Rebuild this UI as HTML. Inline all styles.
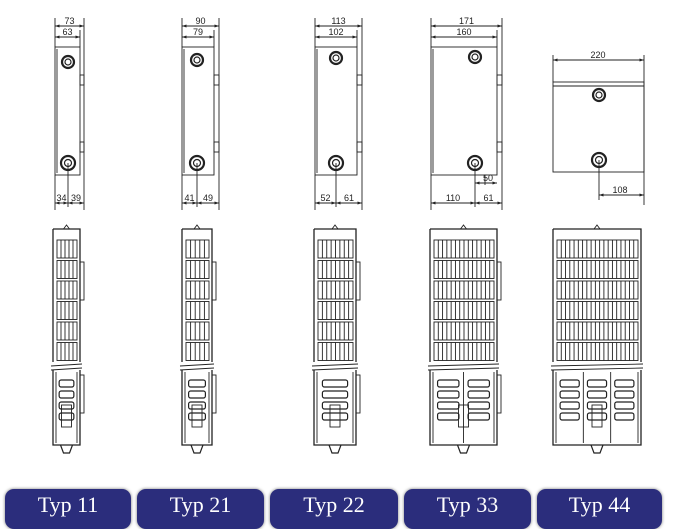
<!DOCTYPE html>
<html><head><meta charset="utf-8"><style>
body{margin:0;background:#fff;width:685px;height:526px;overflow:hidden;position:relative;font-family:"Liberation Sans",sans-serif}
svg{position:absolute;left:0;top:0}
.b{position:absolute;top:489px;height:40px;background:#2b2d7c;border-radius:9px;color:#fff;font-family:"Liberation Serif",serif;font-size:22px;text-align:center;line-height:32px;box-shadow:0 0 3px #777}
</style></head><body>
<svg id="s" width="685" height="526" viewBox="0 0 685 526" font-family="Liberation Sans" font-size="9" fill="none" stroke="#222" stroke-width="0.9">
<defs>
<marker id="a" viewBox="0 0 6 6" refX="6" refY="3" markerWidth="5" markerHeight="5" orient="auto-start-reverse"><path d="M0,1 L6,3 L0,5z" fill="#222" stroke="none"/></marker>
</defs>
<g id="g"></g>
</svg>
<div class="b" style="left:5px;width:126px">Typ 11</div>
<div class="b" style="left:137px;width:127px">Typ 21</div>
<div class="b" style="left:270px;width:128px">Typ 22</div>
<div class="b" style="left:404px;width:127px">Typ 33</div>
<div class="b" style="left:537px;width:125px">Typ 44</div>
<script>
(function(){
const g=document.getElementById('g');let h='';
function L(x1,y1,x2,y2,m){h+=`<line x1="${x1}" y1="${y1}" x2="${x2}" y2="${y2}"${m?' marker-start="url(#a)" marker-end="url(#a)"':''}/>`;}
function T(x,y,t){h+=`<text x="${x}" y="${y}" fill="#222" stroke="none" text-anchor="middle">${t}</text>`;}
function C(x,y,r){h+=`<circle cx="${x}" cy="${y}" r="${r}" stroke-width="2.2"/><circle cx="${x}" cy="${y}" r="${r*0.5}" stroke-width="1.2"/>`;}
function topv(x1,xo,xi,cx,cy1,l1,l2,t1,t2){
 L(x1,18,x1,47);L(xo,18,xo,210);L(xi,30,xi,47);
 L(x1,26,xo,26,1);T((x1+xo)/2,24,t1);L(x1,37,xi,37,1);T((x1+xi)/2,35,t2);
 h+=`<rect x="${x1}" y="47" width="${xi-x1}" height="128"/>`;L(x1+2,49,x1+2,173);
 h+=`<rect x="${xi}" y="75" width="${xo-xi}" height="10"/><rect x="${xi}" y="142" width="${xo-xi}" height="10"/>`;
 C(cx,cy1,6);C(cx,163,7);L(cx,163,cx,207);L(x1,175,x1,210);
 L(x1,203,cx,203,1);L(cx,203,xo,203,1);T((x1+cx)/2,201,l1);T((cx+xo)/2,201,l2);
}
topv(55,84,80,68,62,'34','39','73','63');
topv(182,219,214,197,60,'41','49','90','79');
topv(315,362,357,336,58,'52','61','113','102');
topv(431,502,497,475,57,'110','61','171','160');
L(485,175,485,185);L(475,183,497,183,1);T(488,181,'50');
L(553,55,553,82);L(644,55,644,205);L(553,60,644,60,1);T(598,58,'220');
h+=`<rect x="553" y="82" width="91" height="90"/>`;L(553,86,644,86);C(599,95,6);C(599,160,7);L(599,160,599,200);L(599,195,644,195,1);T(620,193,'108');
function side(x1,x2,tab){
 const w=x2-x1;
 h+=`<path d="M${x1} 229 H${x2} V362 M${x1} 229 V362 M${x1} 370 V445 H${x2} V370" stroke-width="1.3"/>`;
 h+=`<path d="M${(x1+x2)/2-3} 229 l3,-4 l3,4"/>`;
 h+=`<path d="M${x1-2} 366 L${x2+2} 364 M${x1-2} 370 L${x2+2} 368"/>`;
 const gx1=x1+4,gx2=x2-3,n=Math.max(3,Math.round((gx2-gx1)/4.3));
 for(let r=0;r<6;r++){const y=240+r*20.5;h+=`<rect x="${gx1}" y="${y}" width="${gx2-gx1}" height="18"/>`;
  for(let i=1;i<n;i++){const x=gx1+i*(gx2-gx1)/n;L(x,y,x,y+18);}}
 if(tab){h+=`<rect x="${x2}" y="262" width="4" height="38"/><rect x="${x2}" y="375" width="4" height="38"/>`;}
 const cols=Math.max(1,Math.round(w/30));
 for(let c=0;c<=cols;c++){const x=x1+3+c*(w-6)/cols;L(x,372,x,443);}
 for(let c=0;c<cols;c++){const cx=x1+3+(c+0.5)*(w-6)/cols,cw=(w-6)/cols*0.7;
  for(let k=0;k<4;k++){h+=`<rect x="${cx-cw/2}" y="${380+k*11}" width="${cw}" height="7" rx="2" stroke-width="1.2"/>`;}}
 const mx=(x1+x2)/2;h+=`<rect x="${mx-5}" y="405" width="10" height="22"/><path d="M${mx-6} 445 l3,8 h6 l3,-8" stroke-width="1.2"/>`;
}
side(53,80,1);side(182,212,1);side(314,356,1);side(430,497,1);side(553,641,0);
g.innerHTML=h;
})();
</script>
</body></html>
